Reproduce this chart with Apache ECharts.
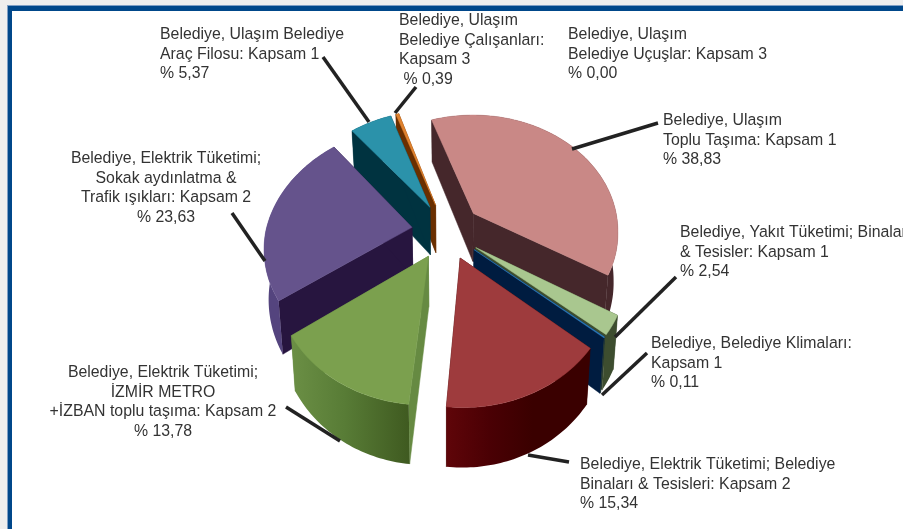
<!DOCTYPE html>
<html>
<head>
<meta charset="utf-8">
<style>html,body{margin:0;padding:0;background:#eeeeee;overflow:hidden}#c{width:903px;height:529px}</style>
<script src="https://cdn.jsdelivr.net/npm/echarts@6/dist/echarts.min.js"></script>
</head>
<body>
<div id="c"></div>
<script>
// ---- data ----
const categories = [
  "Belediye, Ulaşım\nToplu Taşıma: Kapsam 1",
  "Belediye, Yakıt Tüketimi; Binalar\n& Tesisler: Kapsam 1",
  "Belediye, Belediye Klimaları:\nKapsam 1",
  "Belediye, Elektrik Tüketimi; Belediye\nBinaları & Tesisleri: Kapsam 2",
  "Belediye, Elektrik Tüketimi;\nİZMİR METRO\n+İZBAN toplu taşıma: Kapsam 2",
  "Belediye, Elektrik Tüketimi;\nSokak aydınlatma &\nTrafik ışıkları: Kapsam 2",
  "Belediye, Ulaşım Belediye\nAraç Filosu: Kapsam 1",
  "Belediye, Ulaşım\nBelediye Çalışanları:\nKapsam 3\n",
  "Belediye, Ulaşım\nBelediye Uçuşlar: Kapsam 3"
];
const values = [38.83, 2.54, 0.11, 15.34, 13.78, 23.63, 5.37, 0.39, 0.00];

// ---- styles ----
const topColors  = ["#c98886","#a9c78f","#2f7fc0","#9e3b3d","#7ba04e","#65538c","#2b92aa","#e0822e","#888888"];
const sideColors = ["#45272b","#3d4d2f","#001c40","#3d0000","#668a42","#27153f","#003340","#6a2f00","#888888"];
const rimStops   = [
  [["#45272b",0],["#45272b",1]],
  [["#3d4d2f",0],["#3d4d2f",1]],
  [["#3d4d2f",0],["#3d4d2f",1]],
  [["#5f0509",0],["#4a0004",0.3],["#3a0000",0.6],["#3a0000",1]],
  [["#6b8f45",0],["#587c36",0.45],["#3f5a20",1]],
  [["#54447e",0],["#54447e",1]],
  [["#003340",0],["#003340",1]],
  [["#6a2f00",0],["#6a2f00",1]],
  [["#888888",0],["#888888",1]]
];

// ---- layout of the projected pie ----
const cx = 446.5, cy = 231, Rx = 146, Ry = 118, k = 0.15, H = 49, explode = 0.24, startDeg = -19.3, shrink = 0.975, backSkew = 3;

const total = values.reduce((a, b) => a + b, 0);
function project(X, Y, drop) {
  const w = 1 - k * Y;
  let sx = Rx * X / w, sy = Ry * Y / w;
  if (drop) { sx *= shrink; sy += H / w; }
  return [cx + sx + backSkew * Math.max(0, -Y), cy + sy];
}

function renderSlice(params, api) {
  const i = params.dataIndex, v = api.value(0);
  if (!(v > 0)) return { type: 'group', children: [] };
  let before = 0;
  for (let j = 0; j < i; j++) before += values[j];
  const a0 = (startDeg + before / total * 360) * Math.PI / 180;
  const a1 = (startDeg + (before + v) / total * 360) * Math.PI / 180;
  const mid = (a0 + a1) / 2;
  const ox = explode * Math.sin(mid), oy = -explode * Math.cos(mid);
  const arc = [];
  const n = Math.max(2, Math.ceil((a1 - a0) / 0.02));
  for (let s = 0; s <= n; s++) {
    const a = a0 + (a1 - a0) * s / n;
    arc.push([ox + Math.sin(a), oy - Math.cos(a)]);
  }
  const P = p => project(p[0], p[1], false), D = p => project(p[0], p[1], true);
  const apex = [ox, oy], first = arc[0], last = arc[arc.length - 1];
  const z = Math.round(Math.sin(mid - Math.PI / 2) * 100) + 200;
  const poly = (pts, fill) => ({
    type: 'polygon', z2: z, silent: true,
    shape: { points: pts },
    style: { fill: fill, stroke: typeof fill === 'string' ? fill : null, lineWidth: typeof fill === 'string' ? 0.5 : 0 }
  });
  const rimFill = { type: 'linear', x: 0, y: 0, x2: 1, y2: 0,
    colorStops: rimStops[i].map(s => ({ color: s[0], offset: s[1] })) };
  return { type: 'group', children: [
    poly([P(apex), P(first), D(first), D(apex)], sideColors[i]),
    poly([P(apex), P(last), D(last), D(apex)], sideColors[i]),
    poly(arc.map(P).concat(arc.slice().reverse().map(D)), rimFill),
    poly([P(apex)].concat(arc.map(P)), topColors[i])
  ]};
}

const fmt = v => v.toFixed(2).replace('.', ',');
const textAnchors = [
  { x: 663, y: 111, align: 'left' },
  { x: 680, y: 223, align: 'left' },
  { x: 651, y: 334, align: 'left' },
  { x: 580, y: 455, align: 'left' },
  { x: 163, y: 363, align: 'center' },
  { x: 166, y: 149, align: 'center' },
  { x: 160, y: 25,  align: 'left' },
  { x: 399, y: 11,  align: 'left' },
  { x: 568, y: 25,  align: 'left' }
];
const leaders = [
  [[572,149],[658,123]], [[615,337],[676,277]], [[602,395],[647,353]],
  [[528,455],[569,462]], [[286,407],[340,441]], [[232,213],[265,261]],
  [[323,57],[369,122]],  [[416,87],[395,113]]
];

const graphics = [
  { type:'rect', z:-2, silent:true, shape:{x:7,y:5,width:896,height:524}, style:{fill:'#7f9fc5'} },
  { type:'rect', z:-2, silent:true, shape:{x:8,y:6,width:895,height:523}, style:{fill:'#00478a'} },
  { type:'rect', z:-2, silent:true, shape:{x:12,y:11,width:891,height:518}, style:{fill:'#ffffff'} }
];
leaders.forEach(l => graphics.push({ type:'line', z:5, silent:true,
  shape:{x1:l[0][0],y1:l[0][1],x2:l[1][0],y2:l[1][1]}, style:{stroke:'#222222',lineWidth:3.5} }));
categories.forEach((c, i) => {
  const a = textAnchors[i];
  const pct = (c.endsWith('\n') ? ' % ' + fmt(values[i]) : '\n% ' + fmt(values[i]));
  graphics.push({ type:'text', z:6, silent:true, x:a.x, y:a.y,
    style:{ text:c + pct, fill:'#333333', align:a.align, verticalAlign:'top',
      font:'15.85px "Liberation Sans", Arial, sans-serif', lineHeight:19.5 } });
});

const chart = echarts.init(document.getElementById('c'), null, { renderer: 'canvas' });
chart.setOption({
  animation: false,
  backgroundColor: '#eeeeee',
  graphic: graphics,
  series: [{
    type: 'custom',
    coordinateSystem: 'none',
    silent: true,
    z: 3,
    renderItem: renderSlice,
    data: values.map((v, i) => ({ name: categories[i], value: [v] }))
  }]
});
</script>
</body>
</html>
